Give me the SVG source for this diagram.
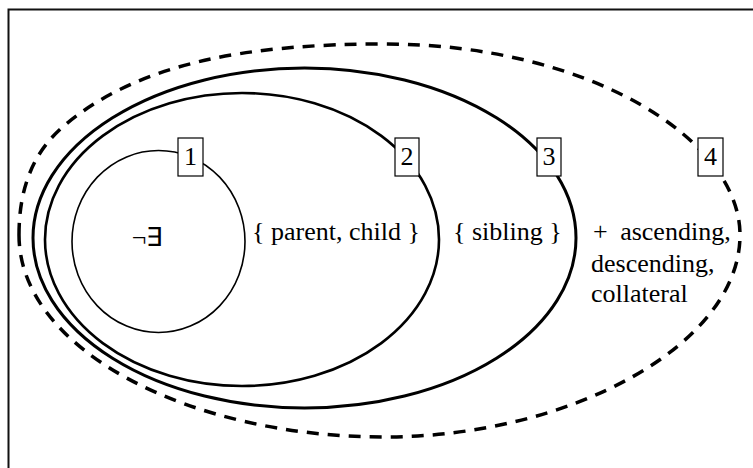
<svg xmlns="http://www.w3.org/2000/svg" width="753" height="468" viewBox="0 0 753 468">
<style>
text{font-family:"Liberation Serif","Times New Roman",serif;font-size:26px;fill:#000}
.box{fill:#fff;stroke:#000;stroke-width:1.2}
.lbl{text-anchor:middle}
.set{fill:none;stroke:#000}
</style>
<rect width="753" height="468" fill="#fff"/>
<path d="M8.5 468 V9.5 H753" fill="none" stroke="#111" stroke-width="2"/>
<g id="connectors"></g>
<g id="set4">
<path class="set" stroke-width="3.5" stroke-dasharray="12 9" d="M19 235 C19 185 35 150 65 125 C140 62 250 44 384 44 C590 44 740 140 740 235 C740 345 570 437 384 437 C190 437 19 350 19 235 Z"/>
</g>
<g id="set3">
<ellipse class="set" cx="304.5" cy="238" rx="271.5" ry="170" stroke-width="3"/>
</g>
<g id="set2">
<ellipse class="set" cx="242" cy="239.5" rx="197" ry="146.5" stroke-width="2.6"/>
</g>
<g id="set1">
<ellipse class="set" cx="158.5" cy="241.5" rx="86.5" ry="91" stroke-width="1.6"/>
<text x="147" y="246" class="lbl">¬∃</text>
</g>
<g id="label1"><rect class="box" x="178" y="138" width="25" height="38"/><text x="190.5" y="165" class="lbl">1</text></g>
<g id="label2"><rect class="box" x="395" y="138" width="24" height="38"/><text x="407" y="165" class="lbl">2</text></g>
<g id="label3"><rect class="box" x="537" y="138" width="24" height="38"/><text x="549" y="165" class="lbl">3</text></g>
<g id="label4"><rect class="box" x="698" y="138" width="25" height="38"/><text x="710.5" y="165" class="lbl">4</text></g>
<g id="text2"><text x="252" y="240">{ parent, child }</text></g>
<g id="text3"><text x="453" y="240">{ sibling }</text></g>
<g id="text4"><text x="593" y="240">+ <tspan dx="6">ascending,</tspan></text><text x="591" y="272">descending,</text><text x="591" y="302">collateral</text></g>
</svg>
